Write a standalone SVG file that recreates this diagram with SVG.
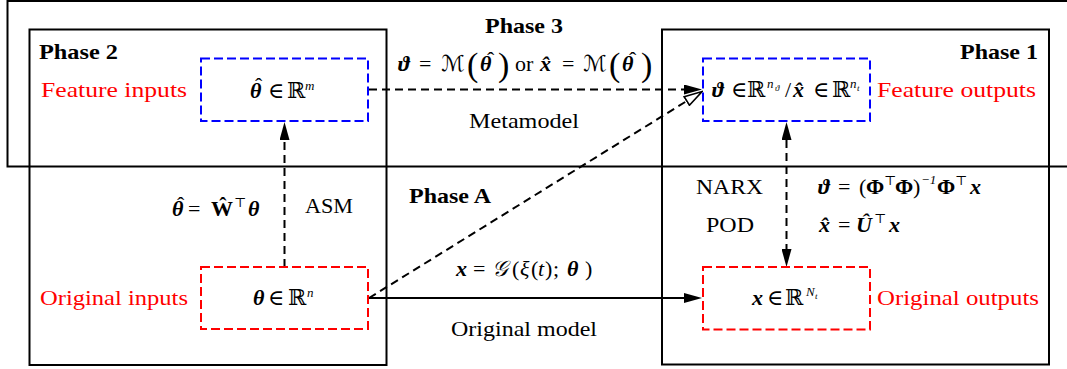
<svg xmlns="http://www.w3.org/2000/svg" width="1067" height="369" viewBox="0 0 1067 369">
<style>
.t{font-family:"Liberation Serif","DejaVu Serif",serif;font-size:22px;fill:#000}
.b{font-weight:bold}
.r{fill:#ff0000}
.bi{font-weight:bold;font-style:italic}
.it{font-style:italic}
.up{font-weight:bold}
.sup{font-size:13px;font-style:italic}
.sub{font-size:9px;font-style:italic}
.scr{font-family:"DejaVu Sans","DejaVu Serif",serif;font-style:italic}
.big{font-size:34px}
.frame{fill:none;stroke:#000;stroke-width:2}
.bbox{fill:#fff;stroke:#0000ff;stroke-width:2;stroke-dasharray:9 4}
.rbox{fill:#fff;stroke:#ff0000;stroke-width:2;stroke-dasharray:9 4}
.c{fill:none;stroke:#000;stroke-width:2}
.d{stroke-dasharray:8 5}
</style>
<defs>
<marker id="ah" viewBox="0 0 18 10" refX="0" refY="5" markerWidth="18" markerHeight="10" markerUnits="userSpaceOnUse" orient="auto-start-reverse">
<path d="M0,0 L18,5 L0,10 Z" fill="#000"/>
</marker>
<marker id="oh" viewBox="-1 -1 20 12" refX="0" refY="5" markerWidth="20" markerHeight="12" markerUnits="userSpaceOnUse" orient="auto">
<path d="M0,0 L18,5 L0,10 Z" fill="#fff" stroke="#000" stroke-width="1.6" stroke-dasharray="none"/>
</marker>
</defs>
<g id="frames">
<path class="frame" d="M1067,1 H7.5 V166.5 H1067"/>
<rect class="frame" x="29.5" y="29.5" width="357" height="335.5"/>
<rect class="frame" x="662" y="29.5" width="387" height="335"/>
<text class="t b" x="485" y="33" textLength="78" lengthAdjust="spacingAndGlyphs">Phase 3</text>
<text class="t b" x="39" y="59" textLength="79" lengthAdjust="spacingAndGlyphs">Phase 2</text>
<text class="t b" x="960" y="59" textLength="78" lengthAdjust="spacingAndGlyphs">Phase 1</text>
<text class="t b" x="409" y="203" textLength="82" lengthAdjust="spacingAndGlyphs">Phase A</text>
</g>
<g id="connectors">
<line class="c d" x1="284.5" y1="267" x2="284.5" y2="140" marker-end="url(#ah)"/>
<line class="c d" x1="786.5" y1="140" x2="786.5" y2="249" marker-start="url(#ah)" marker-end="url(#ah)"/>
<line class="c d" x1="369" y1="89.5" x2="684" y2="89.5" marker-end="url(#ah)"/>
<line class="c" x1="369" y1="298" x2="684" y2="298" marker-end="url(#ah)"/>
<line class="c d" x1="369" y1="298" x2="686.8" y2="101" marker-end="url(#oh)"/>
<text class="t" y="71">
<tspan class="bi" x="398">ϑ</tspan><tspan x="419">=</tspan><tspan class="scr" x="441">ℳ</tspan><tspan class="big" x="467" y="76">(</tspan><tspan class="bi" x="480" y="71">θ</tspan><tspan x="487" y="67">ˆ</tspan><tspan class="big" x="498" y="76">)</tspan><tspan x="515" y="71">or</tspan><tspan class="bi" x="540">x̂</tspan><tspan x="562">=</tspan><tspan class="scr" x="583">ℳ</tspan><tspan class="big" x="609" y="76">(</tspan><tspan class="bi" x="622" y="71">θ</tspan><tspan x="629" y="67">ˆ</tspan><tspan class="big" x="641" y="76">)</tspan>
</text>
<text class="t" x="469" y="128" textLength="110" lengthAdjust="spacingAndGlyphs">Metamodel</text>
<text class="t" x="305" y="213" textLength="48" lengthAdjust="spacingAndGlyphs">ASM</text>
<text class="t" y="216"><tspan class="bi" x="172">θ</tspan><tspan x="177" y="212">ˆ</tspan><tspan x="188" y="216">=</tspan><tspan class="up" x="211">Ŵ</tspan><tspan class="sup" x="234" y="207" font-style="normal">⊤</tspan><tspan class="bi" x="248" y="216">θ</tspan></text>
<text class="t" y="276"><tspan class="bi" x="456">x</tspan><tspan x="473">=</tspan><tspan class="scr" x="492">𝒢</tspan><tspan x="512">(</tspan><tspan class="it" x="520">ξ</tspan><tspan x="531">(</tspan><tspan class="it" x="538">t</tspan><tspan x="545">)</tspan><tspan x="553">;</tspan><tspan class="bi" x="567">θ</tspan><tspan x="585">)</tspan></text>
<text class="t" x="451" y="336" textLength="146" lengthAdjust="spacingAndGlyphs">Original model</text>
<text class="t" x="696" y="194" textLength="67" lengthAdjust="spacingAndGlyphs">NARX</text>
<text class="t" x="706" y="232" textLength="48" lengthAdjust="spacingAndGlyphs">POD</text>
<text class="t" y="194"><tspan class="bi" x="818">ϑ</tspan><tspan x="838">=</tspan><tspan x="859">(</tspan><tspan class="up" x="866">Φ</tspan><tspan class="sup" x="884" y="185" font-style="normal">⊤</tspan><tspan class="up" x="895" y="194">Φ</tspan><tspan x="913">)</tspan><tspan class="sup" x="921" y="184" font-style="normal">−1</tspan><tspan class="up" x="937" y="194">Φ</tspan><tspan class="sup" x="955" y="185" font-style="normal">⊤</tspan><tspan class="bi" x="970" y="194">x</tspan></text>
<text class="t" y="232"><tspan class="bi" x="819">x̂</tspan><tspan x="838">=</tspan><tspan class="bi" x="856">Û</tspan><tspan class="sup" x="874" y="223" font-style="normal">⊤</tspan><tspan class="bi" x="889" y="232">x</tspan></text>
</g>
<g id="node-feature-inputs">
<rect class="bbox" x="201" y="58.5" width="167" height="62.5"/>
<text class="t" y="98"><tspan class="bi" x="250">θ</tspan><tspan x="255" y="93">ˆ</tspan><tspan x="268" y="98">∈</tspan><tspan x="287">ℝ</tspan><tspan class="sup" x="305" y="90">m</tspan></text>
<text class="t r" x="41" y="97" textLength="146" lengthAdjust="spacingAndGlyphs">Feature inputs</text>
</g>
<g id="node-feature-outputs">
<rect class="bbox" x="703" y="58.5" width="167" height="62.5"/>
<text class="t" y="97"><tspan class="bi" x="712">ϑ</tspan><tspan x="731">∈</tspan><tspan x="747">ℝ</tspan><tspan class="sup" x="767" y="88">n</tspan><tspan class="sub" x="775" y="91">ϑ</tspan><tspan x="785" y="97">/</tspan><tspan class="bi" x="793">x̂</tspan><tspan x="813">∈</tspan><tspan x="832">ℝ</tspan><tspan class="sup" x="850" y="88">n</tspan><tspan class="sub" x="857" y="91">t</tspan></text>
<text class="t r" x="877" y="97" textLength="159" lengthAdjust="spacingAndGlyphs">Feature outputs</text>
</g>
<g id="node-original-inputs">
<rect class="rbox" x="201" y="267" width="167" height="62"/>
<text class="t" y="305"><tspan class="bi" x="253">θ</tspan><tspan x="268">∈</tspan><tspan x="288">ℝ</tspan><tspan class="sup" x="307" y="297">n</tspan></text>
<text class="t r" x="40" y="305" textLength="148" lengthAdjust="spacingAndGlyphs">Original inputs</text>
</g>
<g id="node-original-outputs">
<rect class="rbox" x="703" y="267" width="167" height="62.5"/>
<text class="t" y="305"><tspan class="bi" x="752">x</tspan><tspan x="767">∈</tspan><tspan x="785">ℝ</tspan><tspan class="sup" x="806" y="296">N</tspan><tspan class="sub" x="815" y="299">t</tspan></text>
<text class="t r" x="877" y="305" textLength="162" lengthAdjust="spacingAndGlyphs">Original outputs</text>
</g>
</svg>
